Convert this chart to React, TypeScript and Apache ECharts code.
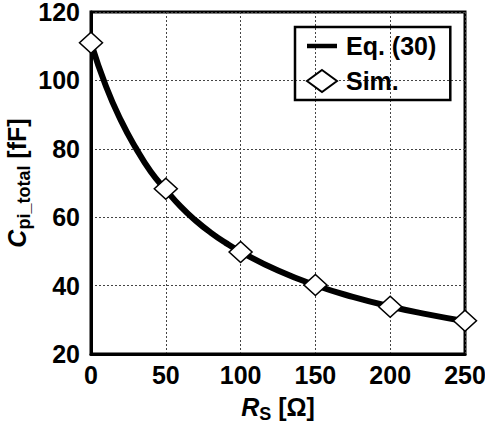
import React, { useEffect, useRef } from "react";
import * as echarts from "echarts";

const curveR = [0, 10, 20, 30, 40, 50, 60, 70, 80, 90, 100, 125, 150, 175, 200, 225, 250];
const curveC = [111, 98.3, 88.3, 80.2, 73.3, 68, 63.1, 59, 55.5, 52.5, 49.9, 44.4, 40.1, 36.7, 33.9, 31.6, 29.6];
const simR = [0, 50, 100, 150, 200, 250];
const simC = [111, 68.3, 49.8, 40.2, 33.8, 29.7];
const seriesNames = ["Eq. (30)", "Sim."];

const FONT = 'Arial, "Liberation Sans", sans-serif';

const richName = {
  i: { fontSize: 25, fontWeight: "bold", fontStyle: "italic", fontFamily: FONT, color: "#000", lineHeight: 28, verticalAlign: "bottom" },
  s: { fontSize: 18, fontWeight: "bold", fontFamily: FONT, color: "#000", lineHeight: 28, verticalAlign: "bottom", padding: [0, 0, -4, 0] },
  n: { fontSize: 25, fontWeight: "bold", fontFamily: FONT, color: "#000", lineHeight: 28, verticalAlign: "bottom" },
};

export default function App() {
  const ref = useRef<HTMLDivElement>(null);
  useEffect(() => {
    if (!ref.current) return;
    const chart = echarts.init(ref.current, undefined, { renderer: "svg" });
    chart.setOption({
      animation: false,
      backgroundColor: "#fff",
      textStyle: { fontFamily: FONT },
      grid: {
        left: 91,
        right: 20,
        top: 12,
        bottom: 71,
        containLabel: false,
        outerBoundsMode: "none",
        show: true,
        borderColor: "#000",
        borderWidth: 3,
        backgroundColor: "transparent",
      },
      legend: {
        left: 295,
        top: 27,
        orient: "vertical",
        borderColor: "#000",
        borderWidth: 2.5,
        padding: [6, 14, 6, 11],
        itemGap: 9,
        itemWidth: 30,
        itemHeight: 22,
        textStyle: { fontFamily: FONT, fontSize: 25, fontWeight: "bold", color: "#000", lineHeight: 26, padding: [0, 0, 0, 4] },
        data: [
          { name: seriesNames[0], icon: "path://M0,0 L30,0 L30,4.5 L0,4.5 Z", itemStyle: { color: "#000" } },
          { name: seriesNames[1], icon: "diamond" },
        ],
      },
      xAxis: {
        type: "value",
        min: 0,
        max: 250,
        interval: 50,
        axisLine: { show: true, lineStyle: { color: "#000", width: 3 } },
        axisTick: { show: false },
        axisLabel: { color: "#000", fontSize: 25, fontWeight: "bold", fontFamily: FONT, margin: 8 },
        splitLine: { show: true, lineStyle: { color: "#444", width: 1, type: [2, 2] } },
        name: "{i|R}{s|S}{n| [Ω]}",
        nameLocation: "middle",
        nameGap: 37,
        nameMoveOverlap: false,
        nameTextStyle: { rich: richName },
      },
      yAxis: {
        type: "value",
        min: 20,
        max: 120,
        interval: 20,
        axisLine: { show: true, lineStyle: { color: "#000", width: 3 } },
        axisTick: { show: false },
        axisLabel: { color: "#000", fontSize: 25, lineHeight: 22, fontWeight: "bold", fontFamily: FONT, margin: 11 },
        splitLine: { show: true, lineStyle: { color: "#444", width: 1, type: [2, 2] } },
        name: "{i|C}{s|pi_total}{n| [fF]}",
        nameLocation: "middle",
        nameGap: 62,
        nameMoveOverlap: false,
        nameTextStyle: { rich: richName },
      },
      series: [
        {
          name: seriesNames[0],
          type: "line",
          smooth: 0.5,
          showSymbol: false,
          symbol: "none",
          data: curveR.map((r, i) => [r, curveC[i]]),
          lineStyle: { color: "#000", width: 6 },
          itemStyle: { color: "#000" },
          z: 2,
        },
        {
          name: seriesNames[1],
          type: "scatter",
          symbol: "diamond",
          symbolSize: [23, 21],
          data: simR.map((r, i) => [r, simC[i]]),
          itemStyle: { color: "#fff", borderColor: "#000", borderWidth: 1.5, opacity: 1 },
          z: 3,
        },
      ],
    });
    return () => chart.dispose();
  }, []);
  return <div ref={ref} style={{ width: 485, height: 425, position: "absolute", left: 0, top: 0 }} />;
}
